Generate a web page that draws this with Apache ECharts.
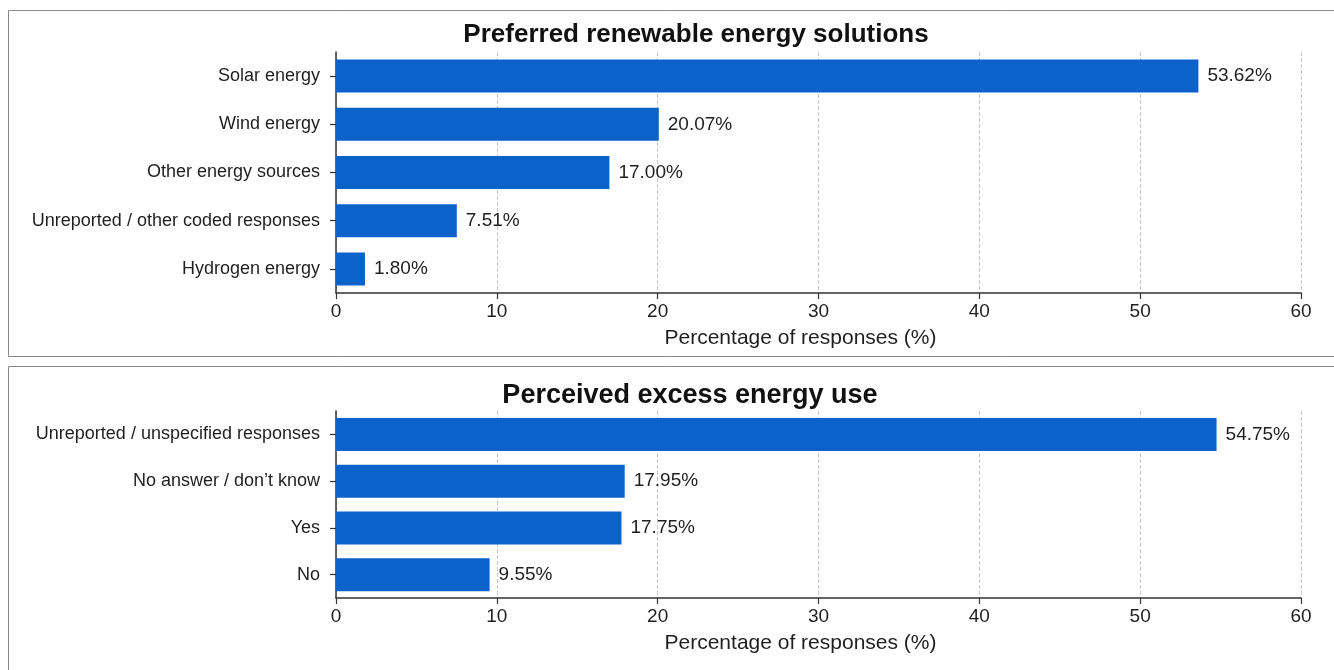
<!DOCTYPE html>
<html>
<head>
<meta charset="utf-8">
<script src="https://cdn.jsdelivr.net/npm/echarts@6/dist/echarts.min.js"></script>
<style>
  html, body { margin: 0; padding: 0; background: #fff; }
  #chart { width: 1334px; height: 670px; }
</style>
</head>
<body>
<div id="chart"></div>
<script>
// ── data ──
const renewableCats = ['Solar energy', 'Wind energy', 'Other energy sources', 'Unreported / other coded responses', 'Hydrogen energy']
const renewableVals = [53.62, 20.07, 17.00, 7.51, 1.80]
const excessCats = ['Unreported / unspecified responses', 'No answer / don\u2019t know', 'Yes', 'No']
const excessVals = [54.75, 17.95, 17.75, 9.55]
const xTicks = [0, 10, 20, 30, 40, 50, 60]

const FONT = '"Liberation Sans", Arial, sans-serif'
const TEXT = '#1f1f1f'
const BAR = '#0b63c9'

const chart = echarts.init(document.getElementById('chart'), null, { renderer: 'canvas' })

function xAxisFor(gridIndex) {
  return {
    type: 'value', gridIndex, min: xTicks[0], max: xTicks[xTicks.length - 1], interval: 10,
    name: 'Percentage of responses (%)', nameLocation: 'middle', nameGap: 35,
    nameTextStyle: { fontFamily: FONT, fontSize: 21, color: TEXT, padding: [0, 36, 0, 0] },
    axisLine: { show: true, lineStyle: { color: '#333', width: 1.5 } },
    axisTick: { show: true, length: 6, lineStyle: { color: '#333', width: 1.2 } },
    axisLabel: { fontFamily: FONT, fontSize: 19, color: TEXT, margin: 9 },
    splitLine: { show: true, lineStyle: { color: '#c8c8c8', type: 'dashed', width: 1 } },
  }
}

function yAxisFor(gridIndex, cats) {
  return {
    type: 'category', gridIndex, data: cats, inverse: true,
    axisLine: { show: true, lineStyle: { color: '#333', width: 1.5 } },
    axisTick: { show: true, length: 6, alignWithLabel: true, lineStyle: { color: '#333', width: 1.2 } },
    axisLabel: { fontFamily: FONT, fontSize: 18, color: TEXT, margin: 16 },
    splitLine: { show: false },
  }
}

function barSeries(idx, vals) {
  return {
    type: 'bar', xAxisIndex: idx, yAxisIndex: idx, data: vals, barWidth: 33,
    itemStyle: { color: BAR },
    label: {
      show: true, position: 'right', distance: 9,
      formatter: p => p.value.toFixed(2) + '%',
      fontFamily: FONT, fontSize: 19, color: TEXT,
    },
    silent: true,
  }
}

const option = {
  backgroundColor: '#fff',
  animation: false,
  title: [
    { text: 'Preferred renewable energy solutions', left: 691, top: 17, textAlign: 'center',
      textStyle: { fontFamily: FONT, fontSize: 26, fontWeight: 'bold', color: '#111' } },
    { text: 'Perceived excess energy use', left: 685, top: 377, textAlign: 'center',
      textStyle: { fontFamily: FONT, fontSize: 27, fontWeight: 'bold', color: '#111' } },
  ],
  grid: [
    { left: 336, right: 33, top: 52, height: 241 },
    { left: 336, right: 33, top: 411, height: 187 },
  ],
  xAxis: [xAxisFor(0), xAxisFor(1)],
  yAxis: [yAxisFor(0, renewableCats), yAxisFor(1, excessCats)],
  series: [barSeries(0, renewableVals), barSeries(1, excessVals)],
  graphic: [
    { type: 'rect', silent: true, z: -1, shape: { x: 8.5, y: 10.5, width: 1340, height: 346 },
      style: { fill: 'none', stroke: '#8a8a8a', lineWidth: 1 } },
    { type: 'rect', silent: true, z: -1, shape: { x: 8.5, y: 366.5, width: 1340, height: 320 },
      style: { fill: 'none', stroke: '#8a8a8a', lineWidth: 1 } },
  ],
}

chart.setOption(option)
</script>
</body>
</html>
